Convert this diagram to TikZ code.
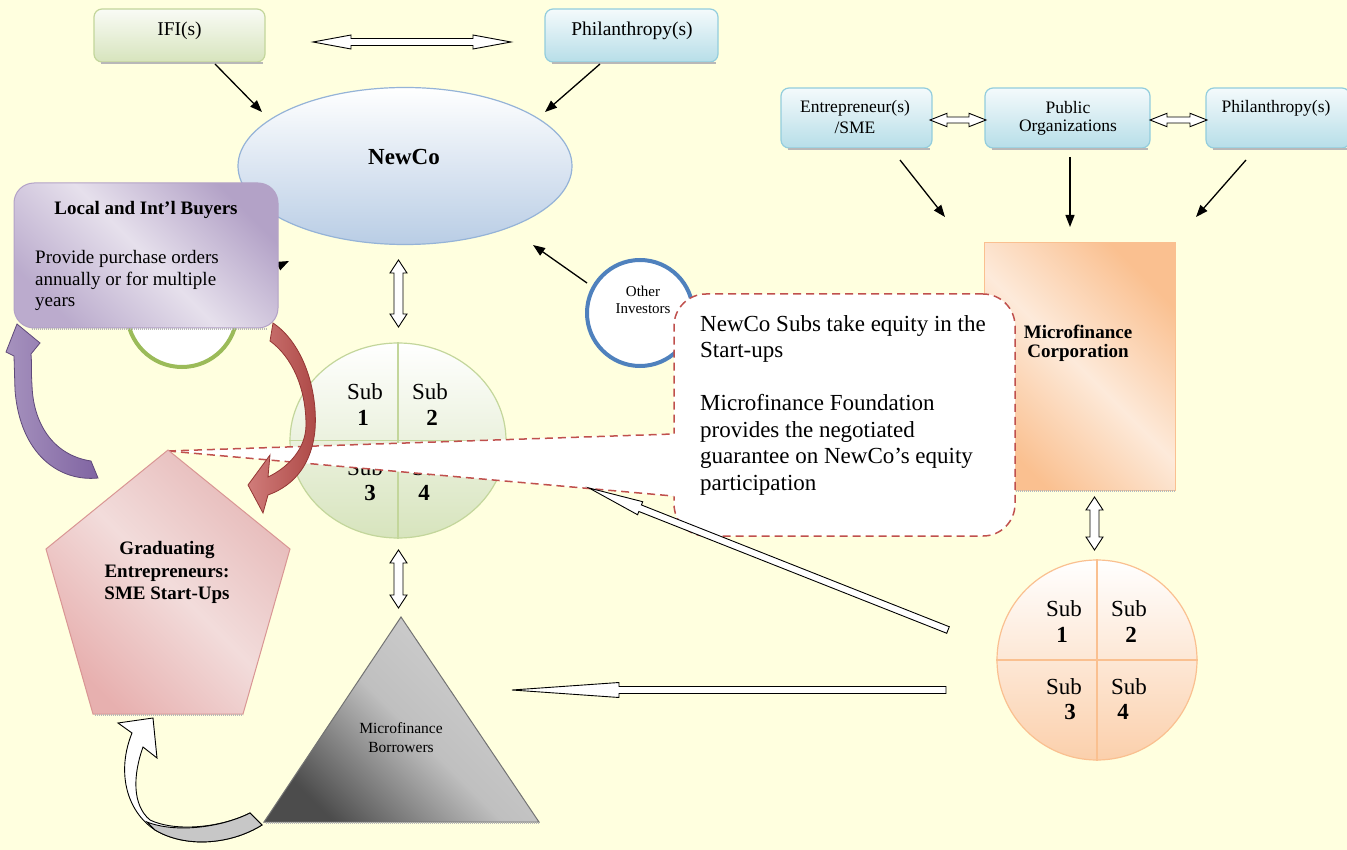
\documentclass[tikz,border=0pt]{standalone}
\usepackage{fontspec}
\setmainfont{Liberation Serif}
\usetikzlibrary{calc,shapes.geometric,arrows.meta}
\definecolor{bg}{HTML}{FFFFDF}
\definecolor{grnL}{HTML}{D7E4BD}
\definecolor{grnB}{HTML}{C3D69B}
\definecolor{grnR}{HTML}{9BBB59}
\definecolor{bluL}{HTML}{B7DEE8}
\definecolor{bluB}{HTML}{93CDDD}
\definecolor{nwL}{HTML}{B9CDE5}
\definecolor{nwB}{HTML}{95B3D7}
\definecolor{purD}{HTML}{B3A2C7}
\definecolor{purL}{HTML}{E6E0EC}
\definecolor{pnkD}{HTML}{E6B9B8}
\definecolor{pnkL}{HTML}{F2DCDB}
\definecolor{pnkB}{HTML}{D99694}
\definecolor{orgD}{HTML}{FAC090}
\definecolor{orgL}{HTML}{FDEADA}
\definecolor{redA}{HTML}{C0504D}
\definecolor{redB}{HTML}{943634}
\definecolor{purA}{HTML}{8064A2}
\definecolor{purB}{HTML}{5F497A}
\definecolor{invB}{HTML}{4F81BD}
\newcommand\myfs[1]{\fontsize{#1}{#1}\selectfont}
\newcommand\dblarr[5]{%
  \coordinate (hA) at ($(#1)!#5!(#2)$);
  \coordinate (hB) at ($(#2)!#5!(#1)$);
  \draw[hollow] (#1) -- ($(hA)!#4!90:(#2)$) -- ($(hA)!#3!90:(#2)$) -- ($(hB)!#3!90:(#2)$) -- ($(hB)!#4!90:(#2)$) -- (#2) -- ($(hB)!#4!-90:(#2)$) -- ($(hB)!#3!-90:(#2)$) -- ($(hA)!#3!-90:(#2)$) -- ($(hA)!#4!-90:(#2)$) -- cycle;}
\newcommand\sglarr[5]{%
  \coordinate (hB) at ($(#2)!#5!(#1)$);
  \draw[hollow] ($(#1)!#3!90:(#2)$) -- ($(hB)!#3!90:(#2)$) -- ($(hB)!#4!90:(#2)$) -- (#2) -- ($(hB)!#4!-90:(#2)$) -- ($(hB)!#3!-90:(#2)$) -- ($(#1)!#3!-90:(#2)$) -- cycle;}
\begin{document}
\begin{tikzpicture}[x=1pt,y=-1pt,
  txt/.style={inner sep=0pt, text=black},
  blk/.style={line width=1.3pt, -{Triangle[length=12pt,width=9pt]}},
  hollow/.style={draw=black, fill=white, line width=0.9pt, line join=miter},
  shd/.style={draw=black!28, line width=2pt, dash pattern=on 1.2pt off 0.8pt},
  gbox/.style={draw=grnB, line width=1.2pt, rounded corners=8pt, top color=grnL!15, bottom color=grnL, inner sep=0pt},
  bbox/.style={draw=bluB, line width=1.2pt, rounded corners=8pt, top color=bluL!15, bottom color=bluL, inner sep=0pt},
  dsh/.style={draw=redA, line width=1.5pt, dash pattern=on 8pt off 5pt},
  diag/.style={shading angle=-45},
]
\useasboundingbox (0,0) rectangle (1347,850);
\fill[bg] (0,0) rectangle (1347,850);
\clip (0,0) rectangle (1347,850);

% ---------- top left cluster
\node[gbox, minimum width=171pt, minimum height=53pt] (ifi) at (179.5,35.5) {};
\draw[shd] ([xshift=8pt,yshift=-0.8pt]ifi.south west) -- ([xshift=-3pt,yshift=-0.8pt]ifi.south east);
\node[txt, font=\myfs{19.5}] (ifit) at (179.5,31) {IFI(s)};
\node[bbox, minimum width=173pt, minimum height=53pt] (phil) at (631.5,35.5) {};
\draw[shd] ([xshift=8pt,yshift=-0.8pt]phil.south west) -- ([xshift=-3pt,yshift=-0.8pt]phil.south east);
\node[txt, font=\myfs{19.5}] (philt) at (632,31) {Philanthropy(s)};
\coordinate (da1) at (313,42); \coordinate (da2) at (511,42);
\dblarr{da1}{da2}{3.5pt}{7pt}{38pt}
\coordinate (a1s) at (215,64); \coordinate (a1e) at (262,112);
\coordinate (a2s) at (600,64); \coordinate (a2e) at (545,112);
\draw[blk] (a1s) -- (a1e);
\draw[blk] (a2s) -- (a2e);

% ---------- NewCo
\node[ellipse, draw=nwB, line width=1.2pt, top color=white, bottom color=nwL, minimum width=334pt, minimum height=157pt, inner sep=0pt] (newco) at (405,166) {};
\node[txt, font=\myfs{23}\bfseries] (newcot) at (404,157) {NewCo};

% ---------- ring + buyers
\node[circle, draw=grnR, line width=4pt, fill=white, minimum size=110pt, inner sep=0pt] (ring) at (182,312) {};
\coordinate (rae) at (289,261);
\draw[blk] (ring.center) -- (rae);
\node[draw=purD, line width=1pt, rounded corners=20pt, top color=purD, bottom color=purD!90, middle color=purL, diag, minimum width=264pt, minimum height=145pt, inner sep=0pt] (buy) at (146,255.5) {};
\draw[shd] ([xshift=18pt,yshift=-0.8pt]buy.south west) -- ([xshift=-12pt,yshift=-0.8pt]buy.south east);
\node[txt, font=\myfs{19}\bfseries, anchor=base] (buyt) at (146,215) {Local and Int’l Buyers};
\node[txt, font=\myfs{19}, anchor=base west] (buy1) at (35,264) {Provide purchase orders};
\node[txt, font=\myfs{19}, anchor=base west] (buy2) at (35,285.5) {annually or for multiple};
\node[txt, font=\myfs{19}, anchor=base west] (buy3) at (35,307) {years};

% ---------- NewCo subs
\coordinate (v1a) at (398.5,260); \coordinate (v1b) at (398.5,327);
\dblarr{v1a}{v1b}{4.5pt}{8.5pt}{13pt}
\node[ellipse, draw=grnB, line width=1.2pt, top color=white, bottom color=grnL, minimum width=216pt, minimum height=195pt, inner sep=0pt] (gsub) at (398,440.5) {};
\draw[grnB, line width=1.2pt] (gsub.north) -- (gsub.south);
\draw[grnB, line width=1.2pt] (gsub.west) -- (gsub.east);
\node[txt, font=\myfs{23}] (g1a) at (365,392) {Sub};
\node[txt, font=\myfs{23}\bfseries] (g1b) at (363,418) {1};
\node[txt, font=\myfs{23}] (g2a) at (430,392) {Sub};
\node[txt, font=\myfs{23}\bfseries] (g2b) at (432,418) {2};
\node[txt, font=\myfs{23}] (g3a) at (365,468) {Sub};
\node[txt, font=\myfs{23}\bfseries] (g3b) at (370,493) {3};
\node[txt, font=\myfs{23}] (g4a) at (430,468) {Sub};
\node[txt, font=\myfs{23}\bfseries] (g4b) at (424,493) {4};

% ---------- other investors
\node[circle, draw=invB, line width=4pt, fill=white, minimum size=106pt, inner sep=0pt] (oth) at (640,313) {};
\node[txt, font=\myfs{15}] (otht1) at (643,291) {Other};
\node[txt, font=\myfs{15}] (otht2) at (643,309) {Investors};
\coordinate (o1) at (587,283); \coordinate (o2) at (533,245);
\draw[blk] (o1) -- (o2);

% ---------- right cluster
\node[bbox, minimum width=151pt, minimum height=60pt] (ent) at (856.5,118) {};
\node[bbox, minimum width=165pt, minimum height=60pt] (pub) at (1067.5,118) {};
\node[bbox, minimum width=144pt, minimum height=60pt] (phr) at (1278,118) {};
\draw[shd] ([xshift=8pt,yshift=-0.8pt]ent.south west) -- ([xshift=-3pt,yshift=-0.8pt]ent.south east);
\draw[shd] ([xshift=8pt,yshift=-0.8pt]pub.south west) -- ([xshift=-3pt,yshift=-0.8pt]pub.south east);
\draw[shd] ([xshift=8pt,yshift=-0.8pt]phr.south west) -- ([xshift=-3pt,yshift=-0.8pt]phr.south east);
\node[txt, font=\myfs{17.5}] (entt1) at (855,108) {Entrepreneur(s)};
\node[txt, font=\myfs{17.5}] (entt2) at (855,128) {/SME};
\node[txt, font=\myfs{17.5}] (pubt1) at (1068,108) {Public};
\node[txt, font=\myfs{17.5}] (pubt2) at (1068,128) {Organizations};
\node[txt, font=\myfs{17.5}] (phrt) at (1276,108) {Philanthropy(s)};
\coordinate (r1a) at (930,120); \coordinate (r1b) at (986,120);
\coordinate (r2a) at (1150,120); \coordinate (r2b) at (1207,120);
\dblarr{r1a}{r1b}{3pt}{6.7pt}{17pt}
\dblarr{r2a}{r2b}{3pt}{6.7pt}{17pt}
\coordinate (e1) at (900,160); \coordinate (e2) at (945,217);
\coordinate (p1) at (1070,157); \coordinate (p2) at (1070,227);
\coordinate (h1) at (1246,160); \coordinate (h2) at (1196,217);
\draw[blk] (e1) -- (e2);
\draw[blk] (p1) -- (p2);
\draw[blk] (h1) -- (h2);
\node[draw=orgD, line width=1pt, top color=orgD, bottom color=orgD, middle color=orgL, diag, minimum width=191pt, minimum height=247pt, inner sep=0pt] (mc) at (1079.5,366.5) {};
\draw[shd] ([xshift=2pt,yshift=-0.8pt]mc.south west) -- ([xshift=-1pt,yshift=-0.8pt]mc.south east);
\node[txt, font=\myfs{19}\bfseries] (mct1) at (1078,332) {Microfinance};
\node[txt, font=\myfs{19}\bfseries] (mct2) at (1078,353) {Corporation};

% ---------- callout
\node[draw=redA, line width=1.5pt, dash pattern=on 8pt off 5pt, fill=white, rounded corners=32pt, minimum width=341pt, minimum height=242pt, inner sep=0pt] (call) at (844.5,415) {};
\coordinate (wt) at (168,451); \coordinate (wu) at (673,434); \coordinate (wl) at (673,496);
\fill[white] (wt) -- (676.5,433.5) -- (676.5,496.5) -- cycle;
\draw[dsh] (wt) -- (wu);
\draw[dsh] (wt) -- (wl);
\node[txt, font=\myfs{23}, anchor=base west] (c1) at (700,331) {NewCo Subs take equity in the};
\node[txt, font=\myfs{23}, anchor=base west] (c2) at (700,357) {Start-ups};
\node[txt, font=\myfs{23}, anchor=base west] (c3) at (700,410.5) {Microfinance Foundation};
\node[txt, font=\myfs{23}, anchor=base west] (c4) at (700,437) {provides the negotiated};
\node[txt, font=\myfs{23}, anchor=base west] (c5) at (700,463) {guarantee on NewCo’s equity};
\node[txt, font=\myfs{23}, anchor=base west] (c6) at (700,490) {participation};

% ---------- red curved arrow
\shade[draw=redB, line width=0.8pt, left color=redA!75, right color=redA!90!black]
  (273,323) .. controls (303,343) and (318,390) .. (315,430) .. controls (312,462) and (296,485) .. (268,495)
  -- (263,513) -- (248,485) -- (270,455) -- (268,477)
  .. controls (289,467) and (306,448) .. (306,425) .. controls (306,388) and (292,357) .. (270,341) -- cycle;

% ---------- slanted hollow arrow
\coordinate (sa1) at (948,630); \coordinate (sa2) at (589,488);
\sglarr{sa1}{sa2}{3.5pt}{7pt}{55pt}

% ---------- pentagon
\shade[draw=pnkB, line width=1pt, top color=pnkD, bottom color=pnkD!95!red, middle color=pnkL, diag]
  (168,450) -- (290,549) -- (243,714) -- (93,714) -- (46,549) -- cycle;
\draw[shd] (95,715) -- (243,715);
\node[txt, font=\myfs{19}\bfseries] (pt1) at (167,550) {Graduating};
\node[txt, font=\myfs{19}\bfseries] (pt2) at (167,573) {Entrepreneurs:};
\node[txt, font=\myfs{19}\bfseries] (pt3) at (167,595) {SME Start-Ups};

% ---------- purple curved arrow
\shade[draw=purB, line width=0.8pt, left color=purA!70, right color=purA]
  (17,324) -- (40,343) -- (31,354) .. controls (32,365) and (31,372) .. (32,385)
  .. controls (33,422) and (52,455) .. (91,461)
  -- (98,478) .. controls (60,482) and (20,455) .. (15,390) -- (14,356) -- (6,352) -- cycle;

% ---------- borrowers
\coordinate (v2a) at (398.5,550); \coordinate (v2b) at (398.5,608);
\dblarr{v2a}{v2b}{4.5pt}{8.5pt}{13pt}
\shade[draw=black!55, line width=1pt, top color=black!18, bottom color=black!70, middle color=black!25, diag]
  (401,617) -- (539,822) -- (264,822) -- cycle;
\draw[shd] (266,823) -- (539,823);
\node[txt, font=\myfs{15.5}] (tr1) at (401,728) {Microfinance};
\node[txt, font=\myfs{15.5}] (tr2) at (401,747) {Borrowers};

% ---------- white curved arrow
\draw[fill=white, draw=black, line width=0.9pt, line join=miter]
  (118,723) -- (153,718) -- (157,758) -- (143,747)
  .. controls (133,775) and (132,805) .. (150,820) .. controls (175,832) and (220,828) .. (250,813)
  -- (262,825) .. controls (230,845) and (185,848) .. (155,830) .. controls (125,810) and (117,770) .. (132,733) -- cycle;
\draw[fill=black!22, draw=black, line width=0.9pt]
  (147,822) .. controls (175,833) and (220,828) .. (250,813) -- (262,825)
  .. controls (230,845) and (185,848) .. (155,830) -- cycle;

% ---------- horizontal arrow
\coordinate (ha1) at (946,690); \coordinate (ha2) at (512,690);
\sglarr{ha1}{ha2}{3.5pt}{7.5pt}{107pt}

% ---------- microfinance subs
\coordinate (v3a) at (1094.5,497); \coordinate (v3b) at (1094.5,550);
\dblarr{v3a}{v3b}{4.5pt}{8.5pt}{13pt}
\node[ellipse, draw=orgD, line width=1.2pt, top color=white, bottom color=orgD!75, minimum width=200pt, minimum height=200pt, inner sep=0pt] (msub) at (1097,660) {};
\draw[orgD, line width=1.2pt] (msub.north) -- (msub.south);
\draw[orgD, line width=1.2pt] (msub.west) -- (msub.east);
\node[txt, font=\myfs{23}] (m1a) at (1064,609) {Sub};
\node[txt, font=\myfs{23}\bfseries] (m1b) at (1062,635) {1};
\node[txt, font=\myfs{23}] (m2a) at (1129,609) {Sub};
\node[txt, font=\myfs{23}\bfseries] (m2b) at (1131,635) {2};
\node[txt, font=\myfs{23}] (m3a) at (1064,687) {Sub};
\node[txt, font=\myfs{23}\bfseries] (m3b) at (1070,712) {3};
\node[txt, font=\myfs{23}] (m4a) at (1129,687) {Sub};
\node[txt, font=\myfs{23}\bfseries] (m4b) at (1123,712) {4};
\end{tikzpicture}
\end{document}
